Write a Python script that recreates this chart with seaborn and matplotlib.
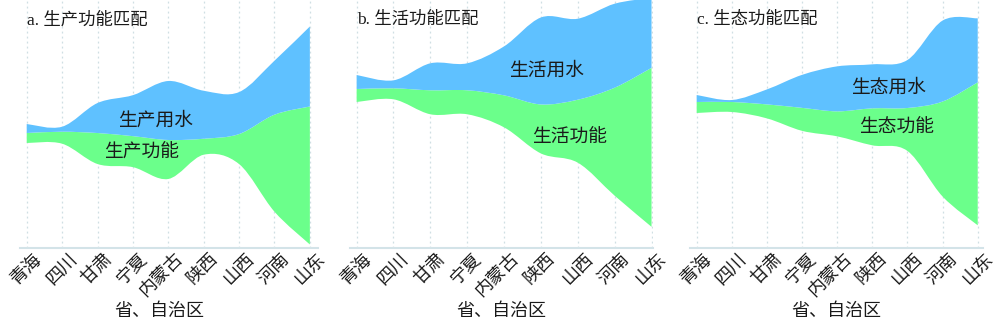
import numpy as np
import matplotlib
matplotlib.use('Agg')
import matplotlib.pyplot as plt
from matplotlib.path import Path
from matplotlib.patches import PathPatch
from matplotlib.transforms import ScaledTranslation
import seaborn as sns

# ---------------- data ----------------
provinces = ['青海', '四川', '甘肃', '宁夏', '内蒙古', '陕西', '山西', '河南', '山东']
water_a = [9, 5, 30, 41, 59, 48, 42, 54, 80]
func_a = [10, 12, 31, 31, 39, 16, 30, 97, 138]
water_b = [14, 8, 27, 27, 49, 87, 81, 84, 70]
func_b = [13, 11, 24, 24, 32, 49, 63, 108, 159]
water_c = [7, 2, 15, 33, 45, 44, 48, 81, 64]
func_c = [11, 10, 14, 23, 25, 37, 43, 95, 143]
titles = ['a. 生产功能匹配', 'b. 生活功能匹配', 'c. 生态功能匹配']
water_names = ['生产用水', '生活用水', '生态用水']
func_names = ['生产功能', '生活功能', '生态功能']
xlabel = '省、自治区'

# ---------------- style ----------------
sns.set_theme(style='white')
plt.rcParams['font.family'] = ['Noto Sans CJK SC', 'DejaVu Sans']
BLUE = '#5fc1ff'
GREEN = '#6bff8b'
TXT = '#1a1a1a'
CJK = ['Noto Sans CJK SC', 'DejaVu Sans']
TITLEF = ['Liberation Serif', 'Noto Sans CJK SC']

W, H = 1000, 322
fig = plt.figure(figsize=(W / 100, H / 100), dpi=100)


def wiggle(layers):
    """d3.stackOffsetWiggle baseline (layers ordered bottom -> top)."""
    L = np.asarray(layers, float)
    n, m = L.shape
    base = np.zeros(m)
    y = 0.0
    for j in range(1, m):
        s1 = s2 = 0.0
        for i in range(n):
            d = (L[i, j] - L[i, j - 1]) / 2
            for k in range(i):
                d += L[k, j] - L[k, j - 1]
            s1 += L[i, j]
            s2 += d * L[i, j]
        if s1:
            y -= s2 / s1
        base[j] = y
    return base


def smooth(P):
    P = np.asarray(P, float)
    n = len(P)
    verts, codes = [], []
    for i in range(n - 1):
        p0 = P[max(i - 1, 0)]
        p1 = P[i]
        p2 = P[i + 1]
        p3 = P[min(i + 2, n - 1)]
        c1 = p1 + (p2 - p0) / 6
        c2 = p2 - (p3 - p1) / 6
        verts += [c1, c2, p2]
        codes += [Path.CURVE4] * 3
    return verts, codes


def band(ax, x, lo, hi, color):
    L = np.column_stack([x, lo])
    U = np.column_stack([x, hi])[::-1]
    v1, c1 = smooth(L)
    v2, c2 = smooth(U)
    verts = [L[0]] + v1 + [U[0]] + v2 + [L[0]]
    codes = [Path.MOVETO] + c1 + [Path.LINETO] + c2 + [Path.CLOSEPOLY]
    ax.add_patch(PathPatch(Path(verts, codes), facecolor=color,
                           edgecolor='none', lw=0, zorder=2))


# layout (pixels): axes left, right; first-point bottom pixel; label positions
panels = [
    dict(w=water_a, f=func_a, l=20, r=318, g0=143, xl=(-0.19, 8.23),
         wpos=(0.456, 0.516), fpos=(0.409, 0.387), xlab=0.466),
    dict(w=water_b, f=func_b, l=350, r=653, g0=102, xl=(-0.18, 8.04),
         wpos=(0.647, 0.718), fpos=(0.726, 0.448), xlab=0.5),
    dict(w=water_c, f=func_c, l=690, r=983, g0=113, xl=(-0.19, 8.15),
         wpos=(0.676, 0.649), fpos=(0.706, 0.488), xlab=0.5),
]

AX_BOTTOM = 248  # pixel row of x-axis line
x = np.arange(len(provinces))
lab_off = ScaledTranslation(0.12, -0.08, fig.dpi_scale_trans)

for k, p in enumerate(panels):
    ax = fig.add_axes([p['l'] / W, (H - AX_BOTTOM) / H,
                       (p['r'] - p['l']) / W, AX_BOTTOM / H])
    f = np.asarray(p['f'], float)
    w = np.asarray(p['w'], float)
    base = wiggle([f, w])
    mid = base + f
    top = mid + w
    band(ax, x, base, mid, GREEN)
    band(ax, x, mid, top, BLUE)

    ax.set_xlim(*p['xl'])
    ax.set_ylim(-(AX_BOTTOM - p['g0']), p['g0'])
    ax.set_yticks([])
    ax.set_xticks(x)
    ax.set_xticklabels(provinces, rotation=45, ha='right', va='center',
                       rotation_mode='anchor', fontsize=13, color=TXT,
                       family=CJK)
    ax.tick_params(axis='x', length=0, pad=0)
    for lbl in ax.get_xticklabels():
        lbl.set_transform(lbl.get_transform() + lab_off)
    for xi in x:
        ax.axvline(xi, color='#cfdfe3', lw=0.9, ls=(0, (1.5, 2.5)), zorder=1)
    for s in ['left', 'right', 'top']:
        ax.spines[s].set_visible(False)
    ax.spines['bottom'].set_color('#d3e3e8')
    ax.spines['bottom'].set_linewidth(1.5)
    ax.set_facecolor('none')

    ax.text(0.024, 0.919, titles[k], transform=ax.transAxes, ha='left',
            va='center', fontsize=12.5, color=TXT, family=TITLEF)
    ax.text(*p['wpos'], water_names[k], transform=ax.transAxes, ha='center',
            va='center', fontsize=13.5, color=TXT, family=CJK)
    ax.text(*p['fpos'], func_names[k], transform=ax.transAxes, ha='center',
            va='center', fontsize=13.5, color=TXT, family=CJK)
    ax.set_xlabel(xlabel, fontsize=13, color=TXT, family=CJK)
    ax.xaxis.set_label_coords(p['xlab'], -(311 - AX_BOTTOM) / AX_BOTTOM)
    ax.xaxis.label.set_va('center')

fig.savefig('out.png', dpi=100, facecolor='white')
